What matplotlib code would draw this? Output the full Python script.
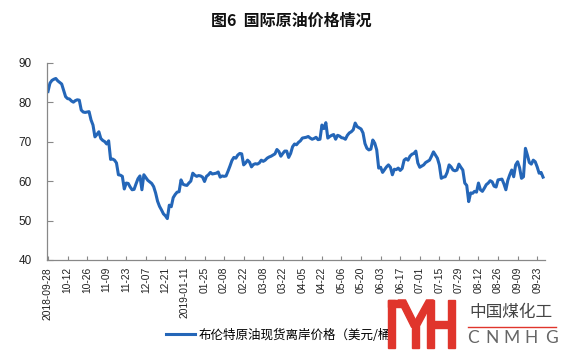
import numpy as np
import matplotlib
matplotlib.use("Agg")
import matplotlib.pyplot as plt
from matplotlib.patches import Polygon, Rectangle
from matplotlib.lines import Line2D

plt.rcParams['font.family'] = ['Noto Sans CJK SC', 'DejaVu Sans']

# 布伦特原油现货离岸价格（美元/桶），交易日序列
brent = [
    82.7, 84.8, 85.5, 85.8, 86.0, 85.4, 85.0, 84.6, 83.0, 81.4,
    80.9, 80.8, 80.3, 80.0, 80.4, 80.6, 80.5, 78.0, 77.5, 77.4,
    77.5, 77.6, 75.5, 74.2, 71.2, 71.8, 72.5, 70.8, 70.3, 70.0,
    69.4, 70.2, 65.5, 65.6, 65.3, 64.6, 61.6, 61.5, 61.2, 58.0,
    59.5, 59.4, 58.5, 57.8, 57.9, 59.3, 60.6, 61.3, 57.8, 61.6,
    60.9, 60.2, 59.8, 59.4, 58.6, 57.0, 54.9, 53.6, 52.7, 51.7,
    51.2, 50.5, 53.9, 53.5, 55.8, 56.6, 57.2, 57.3, 60.3, 59.2,
    59.0, 58.9, 59.5, 60.0, 62.0, 61.5, 61.2, 61.4, 61.3, 61.0,
    59.9, 61.2, 61.6, 62.2, 61.8, 61.9, 62.0, 62.3, 61.0, 61.3,
    61.2, 61.3, 62.5, 63.8, 65.2, 66.0, 65.8, 66.6, 67.0, 66.9,
    64.1, 64.6, 65.3, 64.8, 63.6, 64.2, 64.4, 64.3, 64.6, 65.3,
    65.0, 65.3, 65.8, 66.1, 66.3, 66.6, 66.9, 68.0, 67.5, 66.3,
    67.0, 67.6, 67.6, 66.0, 67.0, 68.7, 69.4, 69.2, 69.8, 70.2,
    70.9, 71.0, 71.1, 71.3, 70.9, 70.6, 70.8, 71.1, 70.5, 70.6,
    74.2, 73.3, 74.8, 70.9, 71.3, 71.6, 71.8, 70.6, 71.6, 71.4,
    71.0, 70.9, 70.6, 71.6, 72.2, 72.5, 73.0, 74.7, 73.8, 73.5,
    73.2, 72.2, 69.5, 68.3, 67.9, 68.1, 70.4, 69.6, 67.9, 63.3,
    63.5, 62.2, 62.9, 63.6, 64.1, 63.5, 61.6, 63.0, 62.9, 63.3,
    62.7, 63.2, 65.3, 65.7, 65.3, 66.3, 66.8, 67.0, 67.6, 64.6,
    63.5, 63.8, 64.1, 64.7, 65.0, 65.3, 66.3, 67.4, 66.6, 65.8,
    64.1, 60.7, 61.0, 61.1, 62.2, 64.1, 63.6, 62.8, 62.6, 62.8,
    64.3, 63.5, 62.8, 59.5, 58.9, 54.8, 57.0, 56.9, 57.4, 57.2,
    59.5, 57.8, 57.4, 58.2, 59.1, 59.5, 60.1, 59.8, 58.7, 58.5,
    60.3, 60.4, 60.5, 59.3, 57.8, 60.2, 61.6, 62.8, 61.1, 64.1,
    64.9, 63.4, 60.7, 61.1, 68.3, 66.6, 64.7, 64.3, 65.3, 64.9,
    63.6, 62.0, 62.2, 61.0,
]

tick_labels = [
    "2018-09-28", "10-12", "10-26", "11-09", "11-23", "12-07", "12-21",
    "2019-01-11", "01-25", "02-08", "02-22", "03-08", "03-22", "04-05",
    "04-22", "05-06", "05-20", "06-03", "06-17", "07-01", "07-15",
    "07-29", "08-12", "08-26", "09-09", "09-23",
]
tick_step = 10
y_ticks = [40, 50, 60, 70, 80, 90]

W, H = 561, 357
fig = plt.figure(figsize=(W / 100, H / 100), dpi=100)
ax = fig.add_axes([47 / W, 1 - 260 / H, (545 - 47) / W, (260 - 62.7) / H])

x = np.arange(len(brent))
ax.plot(x, brent, color='#2466b8', lw=2.2, solid_joinstyle='round')

ax.set_xlim(-0.5, len(brent))
ax.set_ylim(40, 90)
ax.set_yticks(y_ticks)
ax.set_xticks(np.arange(0, len(tick_labels) * tick_step, tick_step))
ax.set_xticklabels(tick_labels, rotation=90, fontsize=7.4,
                   family=['Liberation Sans'], color='#222222')
for lab in ax.get_yticklabels():
    lab.set_family(['Liberation Sans'])
ax.tick_params(axis='y', direction='in', length=4, pad=11, labelsize=8.5,
               color='#888888', labelcolor='#222222')
ax.tick_params(axis='x', direction='in', length=3, pad=5, color='#888888')

for s in ['top', 'right']:
    ax.spines[s].set_visible(False)
for s in ['left', 'bottom']:
    ax.spines[s].set_color('#888888')
    ax.spines[s].set_linewidth(0.9)

# 标题
fig.text(291 / W, 1 - 21 / H, "图6  国际原油价格情况", ha='center', va='center',
         fontsize=11.5, fontweight='bold', color='#111111')

# 图例
handle = Line2D([], [], color='#2466b8', lw=2.2)
fig.legend([handle], ["布伦特原油现货离岸价格（美元/桶）"], loc='center left',
           bbox_to_anchor=(166 / W, 1 - 335 / H), frameon=False, fontsize=9,
           handlelength=2.3, handletextpad=0.3, borderpad=0, borderaxespad=0)


# 水印标志（像素坐标，原点在左上）
def px(xp, yp):
    return (xp / W, 1 - yp / H)


red = '#e0352c'
fig.patches.append(Rectangle(px(387, 357), (W - 387) / W, 60 / H,
                             transform=fig.transFigure, color='white', zorder=5))
shapes = [
    [(388, 300), (395, 300), (395, 348), (388, 348)],
    [(388, 300), (404, 300), (404, 306.5), (388, 306.5)],
    [(398, 300), (405.5, 300), (419, 327), (411.5, 327)],
    [(426.5, 300), (433.5, 300), (419, 327), (411.5, 327)],
    [(411.5, 326), (419, 326), (419, 348), (411.5, 348)],
    [(426.5, 300), (433.5, 300), (433.5, 348), (426.5, 348)],
    [(433, 321), (448, 321), (448, 327.5), (433, 327.5)],
    [(448, 300), (455, 300), (455, 348), (448, 348)],
]
for pts in shapes:
    fig.patches.append(Polygon([px(a, b) for a, b in pts], closed=True,
                               transform=fig.transFigure, color=red, zorder=6))

fig.text(511 / W, 1 - 313 / H, "中国煤化工", ha='center', va='center',
         fontsize=12, color='#444444', zorder=7)
fig.lines.append(Line2D([468 / W, 556 / W], [1 - 327 / H, 1 - 327 / H],
                       transform=fig.transFigure, color=red, lw=1.0, zorder=7))
for i, ch in enumerate("CNMHG"):
    fig.text((473 + i * 19.5) / W, 1 - 338 / H, ch, ha='center', va='center',
             fontsize=12.5, color='#666666', family=['Lato'],
             zorder=7)

fig.savefig("out.png", dpi=100, facecolor='white')
